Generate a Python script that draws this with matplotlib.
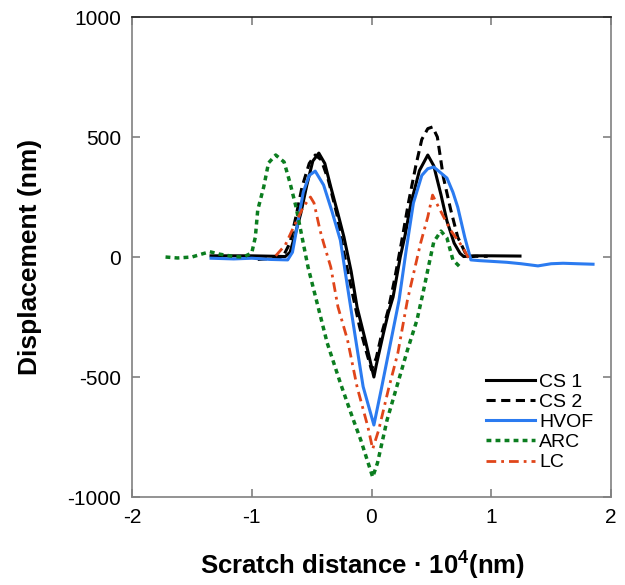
"""Scratch profiles: displacement across the scratch track for each coating."""

import matplotlib

matplotlib.use("Agg")
import matplotlib.pyplot as plt

plt.rcParams["font.family"] = ["Liberation Sans", "DejaVu Sans"]
plt.rcParams["mathtext.fontset"] = "custom"
plt.rcParams["mathtext.rm"] = "Liberation Sans"
plt.rcParams["mathtext.bf"] = "Liberation Sans:bold"
plt.rcParams["axes.unicode_minus"] = False

# scratch distance in units of 1e4 nm, displacement in nm
cs1_x = [-1.34, -1.0, -0.80, -0.72, -0.68, -0.64, -0.59, -0.54, -0.49, -0.44, -0.39,
         -0.34, -0.28, -0.23, -0.17, -0.12, -0.05, 0.02, 0.04, 0.10, 0.14, 0.18, 0.24,
         0.28, 0.33, 0.40, 0.47, 0.52, 0.58, 0.63, 0.69, 0.74, 0.77, 0.85, 1.0, 1.24]
cs1_y = [5, 5, 3, 2, 20, 90, 183, 300, 400, 433, 390,
         292, 180, 83, -60, -210, -350, -500, -450, -317, -233, -167, 0,
         90, 225, 360, 425, 380, 260, 150, 58, 15, 2, 5, 5, 4]

cs2_x = [-0.95, -0.80, -0.74, -0.68, -0.63, -0.58, -0.52, -0.47, -0.42, -0.36, -0.29,
         -0.23, -0.16, -0.10, -0.04, 0.00, 0.04, 0.09, 0.14, 0.19, 0.25, 0.31, 0.37,
         0.42, 0.47, 0.51, 0.55, 0.60, 0.66, 0.72, 0.80, 0.87, 0.97]
cs2_y = [-10, -5, 0, 60, 170, 292, 390, 425, 405, 320, 180,
         17, -150, -290, -400, -470, -420, -310, -220, -100, 60, 230, 380,
         490, 535, 542, 500, 333, 200, 83, 0, 3, 3]

hvof_x = [-1.34, -1.15, -1.0, -0.85, -0.70, -0.66, -0.62, -0.57, -0.52, -0.47, -0.40,
          -0.33, -0.26, -0.20, -0.13, -0.07, 0.02, 0.08, 0.15, 0.23, 0.29, 0.35, 0.42,
          0.47, 0.52, 0.58, 0.63, 0.68, 0.72, 0.78, 0.83, 0.90, 1.0, 1.13, 1.25, 1.39,
          1.50, 1.60, 1.72, 1.85]
hvof_y = [-5, -8, -5, -10, -12, 20, 130, 270, 340, 358, 300,
          190, 70, -125, -350, -540, -700, -555, -380, -180, 30, 225, 340,
          368, 375, 350, 329, 270, 208, 80, -12, -15, -18, -22, -28, -37,
          -28, -26, -28, -30]

arc_x = [-1.72, -1.62, -1.50, -1.42, -1.35, -1.27, -1.15, -1.07, -1.00, -0.97, -0.95,
         -0.90, -0.86, -0.80, -0.73, -0.68, -0.63, -0.58, -0.53, -0.45, -0.37, -0.26,
         -0.16, -0.09, 0.01, 0.05, 0.13, 0.22, 0.30, 0.38, 0.43, 0.48, 0.52, 0.58,
         0.63, 0.68, 0.74]
arc_y = [0, -4, 0, 12, 22, 12, 2, 0, 17, 83, 196,
         292, 392, 425, 396, 308, 208, 83, -42, -200, -358, -525,
         -667, -762, -917, -858, -679, -525, -388, -262, -150, -30, 63, 108,
         79, -12, -42]

lc_x = [-0.80, -0.72, -0.65, -0.57, -0.51, -0.48, -0.43, -0.40, -0.34, -0.28, -0.20,
        -0.12, -0.03, 0.01, 0.06, 0.14, 0.22, 0.30, 0.36, 0.41, 0.47, 0.51, 0.56,
        0.66, 0.76, 0.81]
lc_y = [5, 50, 125, 208, 250, 225, 112, 58, -42, -208, -346,
        -542, -708, -800, -721, -554, -400, -180, -50, 58, 167, 258, 208,
        112, 42, -4]

x_ticks = [-2, -1, 0, 1, 2]
y_ticks = [-1000, -500, 0, 500, 1000]

fig = plt.figure(figsize=(6.25, 5.85), dpi=100)
ax = fig.add_axes([0.2112, 0.1504, 0.7664, 0.8205])

lw = 2.2
ax.plot(cs1_x, cs1_y, color="black", lw=lw, label="CS 1")
ax.plot(cs2_x, cs2_y, color="black", lw=lw, linestyle=(0, (3.0, 1.8)), label="CS 2")
ax.plot(hvof_x, hvof_y, color="#2b7bf0", lw=lw, label="HVOF")
ax.plot(arc_x, arc_y, color="#0b7d1f", lw=2.5, linestyle=(0, (1.4, 1.2)), label="ARC")
ax.plot(lc_x, lc_y, color="#e0451a", lw=2.0, linestyle=(0, (3.5, 1.8, 1.0, 1.8)), label="LC")

ax.set_xlim(-2, 2)
ax.set_ylim(-1000, 1000)
ax.set_xticks(x_ticks)
ax.set_yticks(y_ticks)
ax.tick_params(direction="in", length=6, width=1.2, color="#808080",
               labelsize=15, top=True, right=True, pad=8)

for side in ["left", "right", "bottom"]:
    ax.spines[side].set_color("#808080")
    ax.spines[side].set_linewidth(1.2)
ax.spines["top"].set_color("#222222")
ax.spines["top"].set_linewidth(1.2)

ax.set_xlabel(r"Scratch distance · $\mathbf{10^{4}}$(nm)", fontsize=18.5,
              fontweight="bold")
ax.xaxis.set_label_coords(0.481, -0.11)
ax.set_ylabel("Displacement (nm)", fontsize=19, fontweight="bold")
ax.yaxis.set_label_coords(-0.188, 0.5)

ax.legend(loc="upper left", bbox_to_anchor=(0.74, 0.258), frameon=False,
          fontsize=14, handlelength=2.5, handletextpad=0.2, labelspacing=0.13,
          borderpad=0, borderaxespad=0)

fig.savefig("out.png", dpi=100)
